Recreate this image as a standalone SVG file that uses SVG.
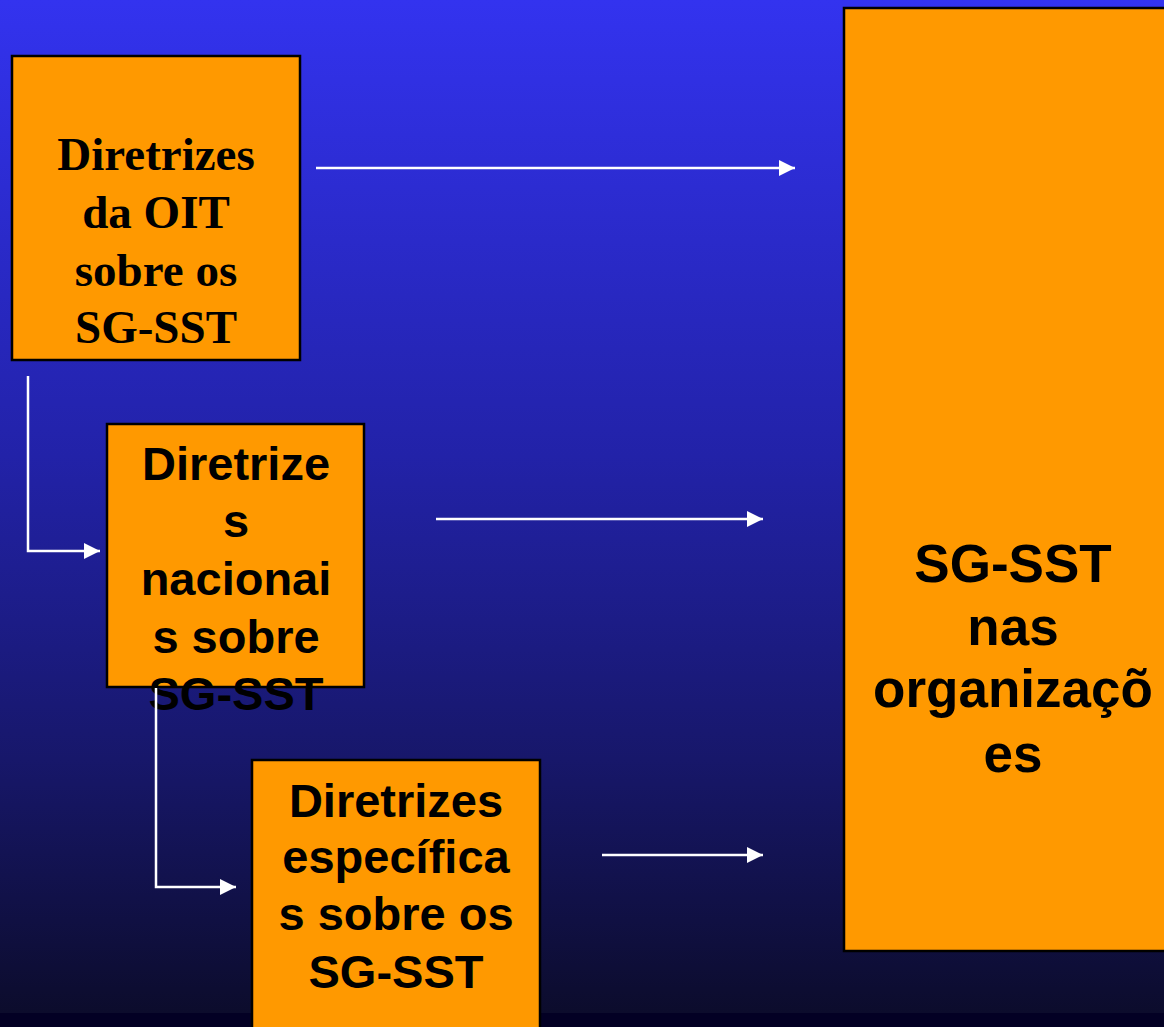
<svg xmlns="http://www.w3.org/2000/svg" width="1164" height="1027" viewBox="0 0 1164 1027">
<defs>
<linearGradient id="bg" x1="0" y1="0" x2="0" y2="1">
<stop offset="0" stop-color="#3333ef"/>
<stop offset="0.45" stop-color="#2222a8"/>
<stop offset="0.75" stop-color="#17176a"/>
<stop offset="1" stop-color="#0c0c2c"/>
</linearGradient>
<marker id="ah" viewBox="0 0 10 10" refX="10" refY="5" markerWidth="6.4" markerHeight="6.4" markerUnits="strokeWidth" orient="auto">
<path d="M0,0 L10,5 L0,10 Z" fill="#ffffff"/>
</marker>
<style>
.box{fill:#ff9900;stroke:#000000;stroke-width:2.5}
.conn{fill:none;stroke:#ffffff;stroke-width:2.5;marker-end:url(#ah)}
.serif{font-family:"Liberation Serif","Times New Roman",serif;font-weight:bold;font-size:47px;fill:#000000;text-anchor:middle}
.sans{font-family:"Liberation Sans",Arial,sans-serif;font-weight:bold;font-size:47px;fill:#000000;text-anchor:middle}
.big{font-size:53px}
</style>
</defs>
<rect x="0" y="0" width="1164" height="1013" fill="url(#bg)"/>
<rect x="0" y="1013" width="1164" height="14" fill="#030024"/>

<g id="node-oit">
<rect class="box" x="12" y="56" width="288" height="304"/>
<text class="serif" x="156" y="170">Diretrizes</text>
<text class="serif" x="156" y="228">da OIT</text>
<text class="serif" x="156" y="286">sobre os</text>
<text class="serif" x="156" y="343">SG-SST</text>
</g>

<g id="node-nacionais">
<rect class="box" x="107" y="424" width="257" height="263"/>
<text class="sans" x="236" y="480">Diretrize</text>
<text class="sans" x="236" y="537">s</text>
<text class="sans" x="236" y="595">nacionai</text>
<text class="sans" x="236" y="653">s sobre</text>
<text class="sans" x="236" y="710">SG-SST</text>
</g>

<g id="node-especificas">
<rect class="box" x="252" y="760" width="288" height="290"/>
<text class="sans" x="396" y="817">Diretrizes</text>
<text class="sans" x="396" y="873">específica</text>
<text class="sans" x="396" y="930">s sobre os</text>
<text class="sans" x="396" y="988">SG-SST</text>
</g>

<g id="node-organizacoes">
<rect class="box" x="844" y="8" width="340" height="943"/>
<text class="sans big" x="1013" y="582">SG-SST</text>
<text class="sans big" x="1013" y="645">nas</text>
<text class="sans big" x="1013" y="707">organizaçõ</text>
<text class="sans big" x="1013" y="772">es</text>
</g>

<g id="connectors">
<line class="conn" x1="316" y1="168" x2="795" y2="168"/>
<line class="conn" x1="436" y1="519" x2="763" y2="519"/>
<line class="conn" x1="602" y1="855" x2="763" y2="855"/>
<polyline class="conn" points="28,376 28,551 100,551"/>
<polyline class="conn" points="156,688 156,887 236,887"/>
</g>
</svg>
